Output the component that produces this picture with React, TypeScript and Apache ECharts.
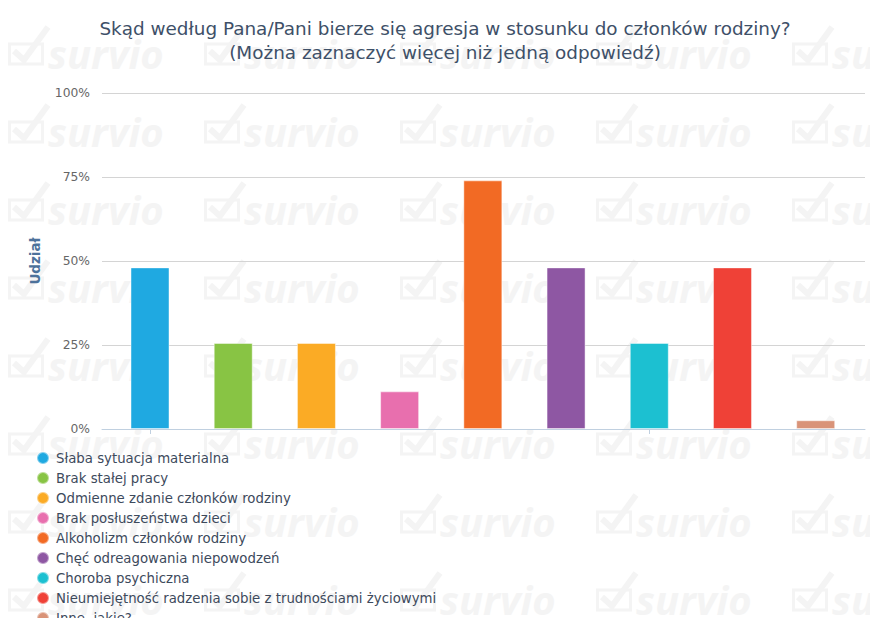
import React, { useEffect, useRef } from "react";
import * as echarts from "echarts";

const categories: string[] = [
  "Słaba sytuacja materialna",
  "Brak stałej pracy",
  "Odmienne zdanie członków rodziny",
  "Brak posłuszeństwa dzieci",
  "Alkoholizm członków rodziny",
  "Chęć odreagowania niepowodzeń",
  "Choroba psychiczna",
  "Nieumiejętność radzenia sobie z trudnościami życiowymi",
  "Inne, jakie?",
];
const values: number[] = [48.1, 25.6, 25.6, 11.2, 74.0, 48.1, 25.6, 48.1, 2.6];
const colors: string[] = [
  "#1fa9e1",
  "#88c444",
  "#fbab25",
  "#e86fae",
  "#f26a24",
  "#8e57a3",
  "#1cc0d1",
  "#ef4137",
  "#d99378",
];
const yTicks: number[] = [0, 25, 50, 75, 100];
const titleText = "Skąd według Pana/Pani bierze się agresja w stosunku do członków rodziny?\n(Można zaznaczyć więcej niż jedną odpowiedź)";
const yAxisName = "Udział";

function watermark(): any[] {
  const els: any[] = [];
  const wm = "#f4f4f4";
  for (let c = 0; c < 5; c++) {
    for (let r = 0; r < 8; r++) {
      const x0 = 8 + 196 * c;
      const yb = 65 + 78 * r;
      els.push({
        type: "rect",
        silent: true,
        z: -10,
        shape: { x: x0 + 1.5, y: yb - 21, width: 33, height: 20 },
        style: { fill: "none", stroke: wm, lineWidth: 3 },
      });
      els.push({
        type: "polyline",
        silent: true,
        z: -10,
        shape: { points: [[x0 + 6, yb - 14], [x0 + 16, yb - 5], [x0 + 40, yb - 38]] },
        style: { fill: "none", stroke: wm, lineWidth: 6 },
      });
      els.push({
        type: "text",
        silent: true,
        z: -10,
        x: x0 + 40,
        y: yb + 8,
        style: {
          text: "survio",
          fill: wm,
          font: "italic bold 40px 'Open Sans'",
          verticalAlign: "bottom",
          align: "left",
        },
      });
    }
  }
  return els;
}

export default function App() {
  const ref = useRef<HTMLDivElement>(null);
  useEffect(() => {
    if (!ref.current) return;
    const chart = echarts.init(ref.current, null, { renderer: "svg" });
    const series = categories.map((name, i) => ({
      name,
      type: "bar",
      stack: "all",
      xAxisIndex: 1,
      yAxisIndex: 1,
      barWidth: 39,
      itemStyle: { color: colors[i], borderColor: "rgba(255,255,255,0.45)", borderWidth: 1 },
      data: categories.map((_, j) => (j === i ? values[i] : "-")),
    }));
    chart.setOption({
      animation: false,
      backgroundColor: "#ffffff",
      textStyle: { fontFamily: "DejaVu Sans" },
      graphic: { elements: watermark() },
      title: {
        text: titleText,
        left: 440,
        top: 11,
        textAlign: "center",
        textStyle: {
          fontFamily: "DejaVu Sans",
          fontSize: 18.4,
          fontWeight: "normal",
          color: "#3e5068",
          lineHeight: 24,
        },
      },
      legend: {
        orient: "vertical",
        left: 36,
        top: 451,
        height: 220,
        padding: 0,
        itemWidth: 12,
        itemHeight: 12,
        itemGap: 6,
        icon: "circle",
        textStyle: {
          fontFamily: "DejaVu Sans",
          fontSize: 13.3,
          lineHeight: 13,
          color: "#3d4a5c",
          padding: [0, 0, 0, 2],
        },
        data: categories,
      },
      grid: [
        { left: 102, right: 13, top: 93, bottom: 197 },
        { left: 108.4, right: 20.7, top: 93, bottom: 197 },
      ],
      xAxis: [
        {
          type: "value",
          gridIndex: 0,
          min: 0,
          max: 1,
          axisLine: { show: true, lineStyle: { color: "#c0d0e0", width: 1 } },
          axisTick: { show: false },
          axisLabel: { show: false },
          splitLine: { show: false },
        },
        {
          type: "category",
          gridIndex: 1,
          data: categories,
          axisLine: { show: false },
          axisTick: { show: true, alignWithLabel: true, length: 5, lineStyle: { color: "#c0d0e0" } },
          axisLabel: { show: false },
          splitLine: { show: false },
        },
      ],
      yAxis: [
        {
          type: "value",
          gridIndex: 0,
          min: yTicks[0],
          max: yTicks[yTicks.length - 1],
          interval: 25,
          name: yAxisName,
          nameLocation: "middle",
          nameGap: 60,
          nameRotate: 90,
          nameTextStyle: { fontFamily: "DejaVu Sans", fontSize: 13.5, fontWeight: "bold", color: "#4d729b" },
          axisLine: { show: false },
          axisTick: { show: false },
          axisLabel: {
            formatter: "{value}%",
            margin: 12,
            fontFamily: "DejaVu Sans",
            fontSize: 12.3,
            color: "#666666",
          },
          splitLine: { show: true, lineStyle: { color: "#d4d4d4", width: 1 } },
        },
        {
          type: "value",
          gridIndex: 1,
          min: yTicks[0],
          max: yTicks[yTicks.length - 1],
          show: false,
          splitLine: { show: false },
        },
      ],
      series,
    });
    return () => chart.dispose();
  }, []);
  return <div ref={ref} style={{ width: 878, height: 626, margin: -8 }} />;
}
